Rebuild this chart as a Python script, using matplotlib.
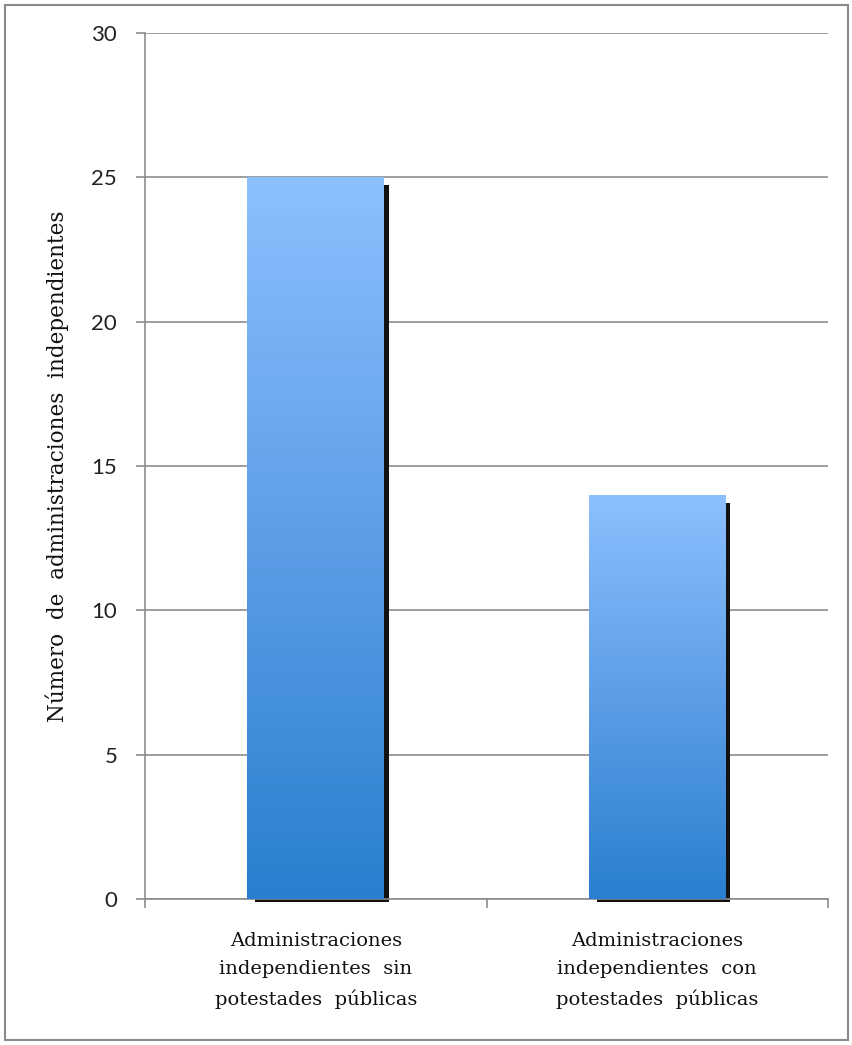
import matplotlib
matplotlib.use("Agg")
import matplotlib.pyplot as plt
import numpy as np
from matplotlib.colors import LinearSegmentedColormap
from matplotlib.patches import Rectangle

categories = ["Administraciones\nindependientes  sin\npotestades  públicas",
              "Administraciones\nindependientes  con\npotestades  públicas"]
values = [25, 14]
yticks = [0, 5, 10, 15, 20, 25, 30]
ylabel = "Número  de  administraciones  independientes"

fig = plt.figure(figsize=(8.52, 10.45), dpi=100)
ax = fig.add_axes([145/852, 1 - 899/1045, (828-145)/852, (899-33)/1045])

# outer border
fig.patches.append(Rectangle((5/852, 5/1045), 843/852, 1035/1045, transform=fig.transFigure,
                             fill=False, edgecolor="#8a8a8a", linewidth=1.5))

x = np.arange(len(categories))
width = 0.40
cmap = LinearSegmentedColormap.from_list("g", ["#2a7fd0", "#5c9ee6", "#8dc0ff"])
grad = np.linspace(0, 1, 256).reshape(-1, 1)

px_x = 1 / 341.5   # data units per pixel (x)
px_y = 30 / 866    # data units per pixel (y)

for xi, v in zip(x, values):
    left = xi - width/2
    right = xi + width/2
    sh = Rectangle((left + 8*px_x, -3*px_y), (right + 4.5*px_x) - (left + 8*px_x),
                   v - 8*px_y + 3*px_y, facecolor="#111111",
                   edgecolor="none", zorder=2, clip_on=False)
    ax.add_patch(sh)
    bar = ax.bar(xi, v, width=width, color="none", edgecolor="none", zorder=3)[0]
    im = ax.imshow(grad, extent=[left, right, 0, v], origin="lower",
                   cmap=cmap, aspect="auto", zorder=3)
    im.set_clip_path(bar)

ax.set_xlim(-0.5, 1.5)
ax.set_ylim(0, 30)
ax.set_yticks(yticks)
ax.set_yticklabels([str(t) for t in yticks], fontfamily="Lato", fontsize=16, color="#222222")
ax.yaxis.grid(True, color="#8c8c8c", linewidth=1.2)
ax.set_axisbelow(True)
ax.tick_params(axis="y", length=6.5, width=1.2, color="#8c8c8c", pad=13.5)
ax.set_xticks([-0.5, 0.5, 1.5])
ax.set_xticklabels([])
ax.tick_params(axis="x", length=6.5, width=1.2, color="#8c8c8c")
for xi, c in zip(x, categories):
    ax.text(xi, -1.15, c, ha="center", va="top", fontfamily="DejaVu Serif", fontsize=14,
            linespacing=1.72, color="#111111")
for s in ["top", "right"]:
    ax.spines[s].set_visible(False)
for s in ["left", "bottom"]:
    ax.spines[s].set_color("#8c8c8c")
    ax.spines[s].set_linewidth(1.2)
ax.set_ylabel(ylabel, fontfamily="DejaVu Serif", fontsize=15.5, color="#111111", labelpad=16)

fig.savefig("out.png", dpi=100)
